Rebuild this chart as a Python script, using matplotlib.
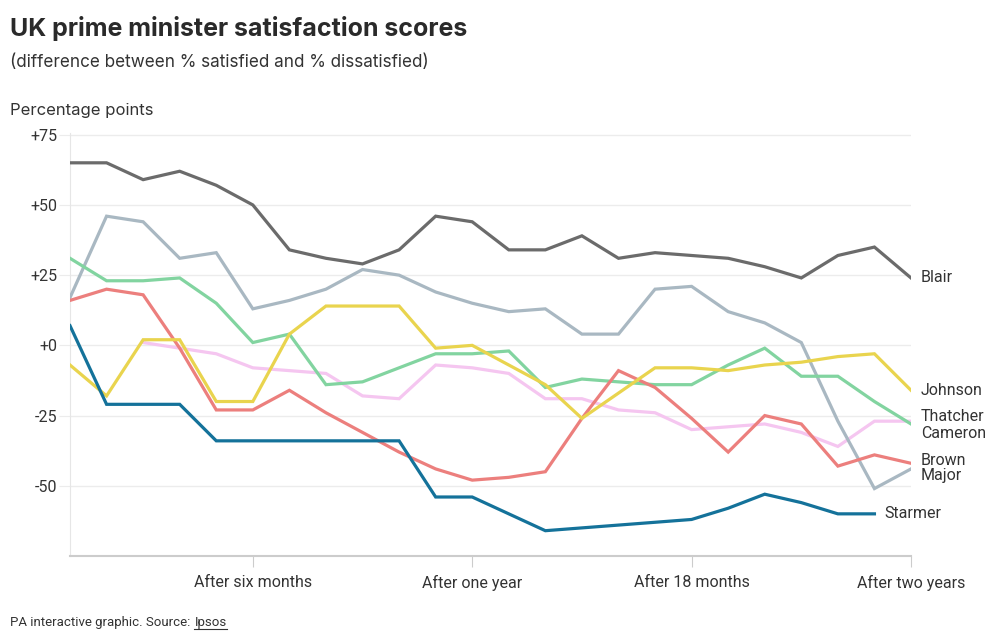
import matplotlib
matplotlib.use("Agg")
import matplotlib.pyplot as plt
import numpy as np

months = list(range(1, 25))
tick_months = [6, 12, 18, 24]
tick_labels = ["After six months", "After one year", "After 18 months", "After two years"]
y_ticks = [-50, -25, 0, 25, 50, 75]
y_tick_labels = ["-50", "-25", "+0", "+25", "+50", "+75"]

blair = [65, 65, 59, 62, 57, 50, 34, 31, 29, 34, 46, 44, 34, 34, 39, 31, 33, 32, 31, 28, 24, 32, 35, 24]
major = [17, 46, 44, 31, 33, 13, 16, 20, 27, 25, 19, 15, 12, 13, 4, 4, 20, 21, 12, 8, 1, -27, -51, -44]
thatcher = [31, 23, 23, 24, 15, 1, 4, -14, -13, -8, -3, -3, -2, -15, -12, -13, -14, -14, -7, -1, -11, -11, -20, -28]
cameron = [None, None, 1, -1, -3, -8, -9, -10, -18, -19, -7, -8, -10, -19, -19, -23, -24, -30, -29, -28, -31, -36, -27, -27]
brown = [16, 20, 18, -1, -23, -23, -16, -24, -31, -38, -44, -48, -47, -45, -26, -9, -15, -26, -38, -25, -28, -43, -39, -42]
johnson = [-7, -18, 2, 2, -20, -20, 4, 14, 14, 14, -1, 0, -7, -14, -26, -17, -8, -8, -9, -7, -6, -4, -3, -16]
starmer = [7, -21, -21, -21, -34, -34, -34, -34, -34, -34, -54, -54, -60, -66, -65, -64, -63, -62, -58, -53, -56, -60, -60, None]

series = [
    ("Cameron", cameron, "#f5c6f0"),
    ("Major", major, "#a9b8c2"),
    ("Thatcher", thatcher, "#82d4a0"),
    ("Brown", brown, "#ec7f7d"),
    ("Blair", blair, "#6b6b6b"),
    ("Johnson", johnson, "#e9d44e"),
    ("Starmer", starmer, "#14729a"),
]

label_y = {"Blair": 24, "Johnson": -16, "Thatcher": -25.5, "Cameron": -31.5,
           "Brown": -41, "Major": -46.5, "Starmer": -60}

txt = "#333333"
fig = plt.figure(figsize=(10, 6.37), dpi=100)
ax = fig.add_axes([0.07, 0.1272, 0.841, 0.6635])

for name, vals, col in series:
    y = np.array([np.nan if v is None else v for v in vals], dtype=float)
    ax.plot(months, y, color=col, lw=2.3, solid_joinstyle="miter", zorder=3)
    last = max(i for i, v in enumerate(vals) if v is not None)
    ax.annotate(name, xy=(months[last], label_y[name]), xytext=(7, 0),
                textcoords="offset points", va="center", ha="left",
                fontsize=11.5, color=txt, family="Roboto", annotation_clip=False)

ax.set_xlim(1, 24)
ax.set_ylim(-75, 75.5)
ax.set_yticks(y_ticks)
ax.set_yticklabels(y_tick_labels)
ax.set_xticks(tick_months)
ax.set_xticklabels(tick_labels)
ax.grid(axis="y", color="#ececec", lw=1, zorder=0)
ax.tick_params(axis="y", length=8, color="#ececec", labelsize=11.5, labelcolor=txt, pad=1)
ax.tick_params(axis="x", length=8, color="#cccccc", labelsize=11.5, labelcolor=txt, pad=6)
for lab in ax.get_xticklabels() + ax.get_yticklabels():
    lab.set_family("Roboto")
for s in ["top", "right"]:
    ax.spines[s].set_visible(False)
ax.spines["left"].set_color("#e6e6e6")
ax.spines["bottom"].set_color("#cccccc")
ax.spines["bottom"].set_linewidth(1.5)

fig.text(0.01, 0.955, "UK prime minister satisfaction scores", fontsize=18,
         fontweight="bold", color="#2a2a2a", family="Inter", va="center", ha="left")
fig.text(0.01, 0.902, "(difference between % satisfied and % dissatisfied)", fontsize=12.3,
         color=txt, family="Inter", va="center", ha="left")
fig.text(0.01, 0.827, "Percentage points", fontsize=12, color=txt, family="Inter",
         va="center", ha="left")
t1 = fig.text(0.01, 0.017, "PA interactive graphic. Source:", fontsize=9.5, color=txt,
              family="Roboto", va="baseline", ha="left")
fig.canvas.draw()
r = fig.canvas.get_renderer()
bb = t1.get_window_extent(r)
x2 = (bb.x1 + 4) / fig.bbox.width
t2 = fig.text(x2, 0.017, "Ipsos", fontsize=9.5, color=txt, family="Roboto",
              va="baseline", ha="left")
bb2 = t2.get_window_extent(r)
yl = (bb.y0 + 1) / fig.bbox.height
fig.add_artist(plt.Line2D([bb2.x0 / fig.bbox.width, bb2.x1 / fig.bbox.width], [yl - 0.002, yl - 0.002],
                          transform=fig.transFigure, color=txt, lw=0.8))

fig.savefig("out.png", dpi=100, facecolor="white")
